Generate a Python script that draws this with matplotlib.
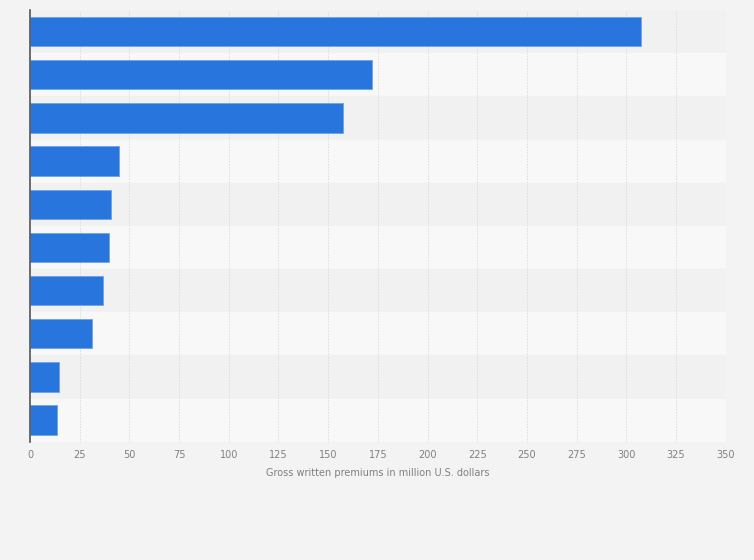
import matplotlib
matplotlib.use('Agg')
from matplotlib import pyplot as plt

# values, top bar first
values = [307.4, 171.8, 157.7, 44.9, 40.9, 39.9, 36.9, 31.0, 14.7, 13.4]
xticks = [0, 25, 50, 75, 100, 125, 150, 175, 200, 225, 250, 275, 300, 325, 350]
xlabel = 'Gross written premiums in million U.S. dollars'

fig = plt.figure(figsize=(7.54, 5.6), dpi=100)
fig.patch.set_facecolor('#f3f3f3')
ax = fig.add_axes([0.0398, 0.2113, 0.9227, 0.7707])
ax.set_facecolor('#f3f3f3')

n = len(values)
pos = list(range(n))

# alternating row bands
for i in pos:
    ax.axhspan(i - 0.5, i + 0.5, color='#f1f1f1' if i % 2 == 0 else '#f8f8f8', zorder=0)

ax.barh(pos, values, height=0.68, color='#2876dd', edgecolor='#6aa3ea', linewidth=0.6, zorder=3)

ax.set_xlim(0, 350)
ax.set_ylim(n - 0.5, -0.5)
ax.set_xticks(xticks)
ax.set_xticklabels([str(t) for t in xticks], fontsize=7, color='#808080')
ax.set_yticks([])
ax.tick_params(axis='x', length=0, pad=6)
ax.grid(axis='x', color='#dcdcdc', linestyle=(0, (1.5, 1.5)), linewidth=0.7, zorder=1)

for s in ['top', 'right', 'bottom']:
    ax.spines[s].set_visible(False)
ax.spines['left'].set_color('#555555')
ax.spines['left'].set_linewidth(1.2)
ax.spines['left'].set_zorder(4)

ax.set_xlabel(xlabel, fontsize=7, color='#808080', labelpad=6)

fig.savefig('out.png', dpi=100, facecolor=fig.get_facecolor())
